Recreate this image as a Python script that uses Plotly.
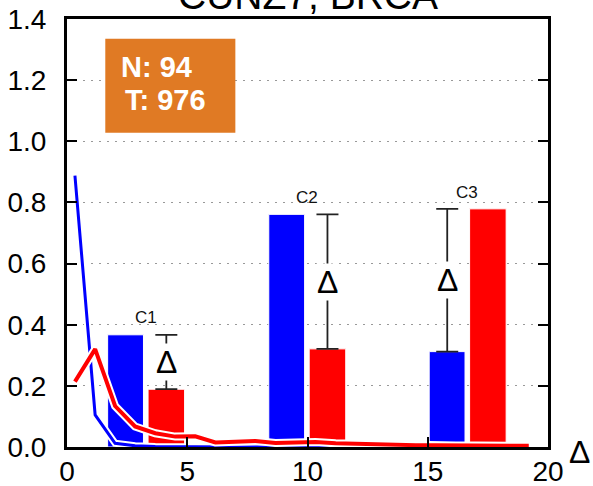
import plotly.graph_objects as go

# ---------------- data ----------------
categories = ["C1", "C2", "C3"]
group_x = [3.28, 9.98, 16.65]
blue_vals = [0.367, 0.761, 0.312]
red_vals = [0.189, 0.321, 0.779]

line_x = [0.33, 1.17, 2.0, 2.83, 3.67, 4.5, 5.33, 6.17, 7.0, 7.83, 8.67, 9.5,
          10.33, 11.17, 12.0, 12.83, 13.67, 14.5, 15.33, 16.17, 17.0, 17.83, 18.67, 19.2]
red_line = [0.214, 0.32, 0.134, 0.067, 0.045, 0.034, 0.035, 0.015, 0.017, 0.02, 0.013, 0.015,
            0.016, 0.012, 0.010, 0.009, 0.007, 0.006, 0.006, 0.005, 0.005, 0.005, 0.004, 0.004]
blue_line = [0.888, 0.105, 0.012, 0.004, 0.002, 0.001, 0.001, 0.001, 0.0, 0.0, 0.0, 0.0,
             0.0, 0.0, 0.0, 0.0, 0.0, 0.0, 0.0, 0.0, 0.0, 0.0, 0.0, 0.0]

x_ticks = [0, 5, 10, 15, 20]
y_ticks = [0.0, 0.2, 0.4, 0.6, 0.8, 1.0, 1.2, 1.4]

title_text = "CUNZ7, BRCA"
info_lines = ["N: 94", "T: 976"]

BLUE = "#0000FF"
RED = "#FF0000"
ORANGE = "#E07A24"
FONT = "Liberation Sans, Arial, sans-serif"

fig = go.Figure()

# bars
fig.add_trace(go.Bar(x=group_x, y=blue_vals, offset=-1.59, width=1.49,
                     marker=dict(color=BLUE, line=dict(color="white", width=1)),
                     showlegend=False, hoverinfo="skip"))
fig.add_trace(go.Bar(x=group_x, y=red_vals, offset=0.09, width=1.52,
                     marker=dict(color=RED, line=dict(color="white", width=1)),
                     showlegend=False, hoverinfo="skip"))

# lines with white halo
fig.add_trace(go.Scatter(x=line_x, y=blue_line, mode="lines",
                         line=dict(color="white", width=7), showlegend=False, hoverinfo="skip"))
fig.add_trace(go.Scatter(x=line_x, y=blue_line, mode="lines",
                         line=dict(color=BLUE, width=3), showlegend=False, hoverinfo="skip"))
fig.add_trace(go.Scatter(x=line_x, y=red_line, mode="lines",
                         line=dict(color="white", width=8), showlegend=False, hoverinfo="skip"))
fig.add_trace(go.Scatter(x=line_x, y=red_line, mode="lines",
                         line=dict(color=RED, width=4), showlegend=False, hoverinfo="skip"))

# difference error bars between the bar tops
err_x, err_mid, err_half = [], [], []
for g, b, r in zip(group_x, blue_vals, red_vals):
    lo, hi = min(b, r), max(b, r)
    err_x.append(g + 0.85 if r < b else g - 0.84)
    err_mid.append((lo + hi) / 2)
    err_half.append((hi - lo) / 2)

fig.add_trace(go.Scatter(x=err_x, y=err_mid, mode="markers",
                         marker=dict(size=1, color="rgba(0,0,0,0)"),
                         error_y=dict(type="data", array=err_half, symmetric=True,
                                      color="#222222", thickness=1.8, width=11),
                         showlegend=False, hoverinfo="skip"))

annotations = []
for ex, em in zip(err_x, err_mid):
    annotations.append(dict(x=ex, y=em, xref="x", yref="y", text="Δ", showarrow=False,
                            font=dict(family=FONT, size=32, color="black"),
                            bgcolor="white", borderpad=0, xanchor="center", yanchor="middle"))

for c, g, b, r in zip(categories, group_x, blue_vals, red_vals):
    annotations.append(dict(x=g, y=max(b, r) + 0.055, xref="x", yref="y", text=c,
                            showarrow=False, font=dict(family=FONT, size=17, color="#111111"),
                            xanchor="center", yanchor="middle"))

# info box text
annotations.append(dict(x=0.109, y=0.889, xref="paper", yref="paper", text=f"<b>{info_lines[0]}</b>",
                        showarrow=False, font=dict(family=FONT, size=29, color="white"),
                        xanchor="left", yanchor="middle"))
annotations.append(dict(x=0.117, y=0.810, xref="paper", yref="paper", text=f"<b>{info_lines[1]}</b>",
                        showarrow=False, font=dict(family=FONT, size=29, color="white"),
                        xanchor="left", yanchor="middle"))

# title (cut off at top)
annotations.append(dict(x=0.5006, y=1.055, xref="paper", yref="paper", text=title_text,
                        showarrow=False, font=dict(family=FONT, size=39, color="black"),
                        xanchor="center", yanchor="middle"))

# x-axis label
annotations.append(dict(x=1.0645, y=-0.012, xref="paper", yref="paper", text="Δ",
                        showarrow=False, font=dict(family=FONT, size=32, color="black"),
                        xanchor="center", yanchor="middle"))

fig.update_layout(
    width=593, height=486,
    margin=dict(l=67, r=45, t=19, b=39, autoexpand=False),
    paper_bgcolor="white", plot_bgcolor="white",
    barmode="overlay",
    showlegend=False,
    annotations=annotations,
    shapes=[dict(type="rect", xref="paper", yref="paper", x0=0.0796, x1=0.35, y0=0.734, y1=0.954,
                 fillcolor=ORANGE, line=dict(width=0), layer="above")],
    font=dict(family=FONT, color="black"),
)

fig.update_xaxes(range=[0, 20], tickvals=x_ticks, ticktext=[str(v) for v in x_ticks],
                 ticks="inside", ticklen=10, tickwidth=1.5, tickcolor="black",
                 showline=True, linecolor="black", linewidth=3, mirror=True, automargin=False,
                 showgrid=False, zeroline=False, tickfont=dict(family=FONT, size=28, color="black"),
                 ticklabelstandoff=-3)
fig.update_yaxes(range=[0, 1.4], tickvals=y_ticks, ticktext=[f"{v:.1f}" for v in y_ticks],
                 ticks="inside", ticklen=10, tickwidth=1.5, tickcolor="black",
                 showline=True, linecolor="black", linewidth=3, mirror="ticks", automargin=False,
                 showgrid=True, gridcolor="#999999", gridwidth=1, griddash="2px,6px",
                 zeroline=False, tickfont=dict(family=FONT, size=28, color="black"),
                 ticklabelstandoff=12)

fig.write_html("out.html", config={"displayModeBar": False},
               post_script="document.body.style.margin='0';document.body.style.overflow='hidden';")
